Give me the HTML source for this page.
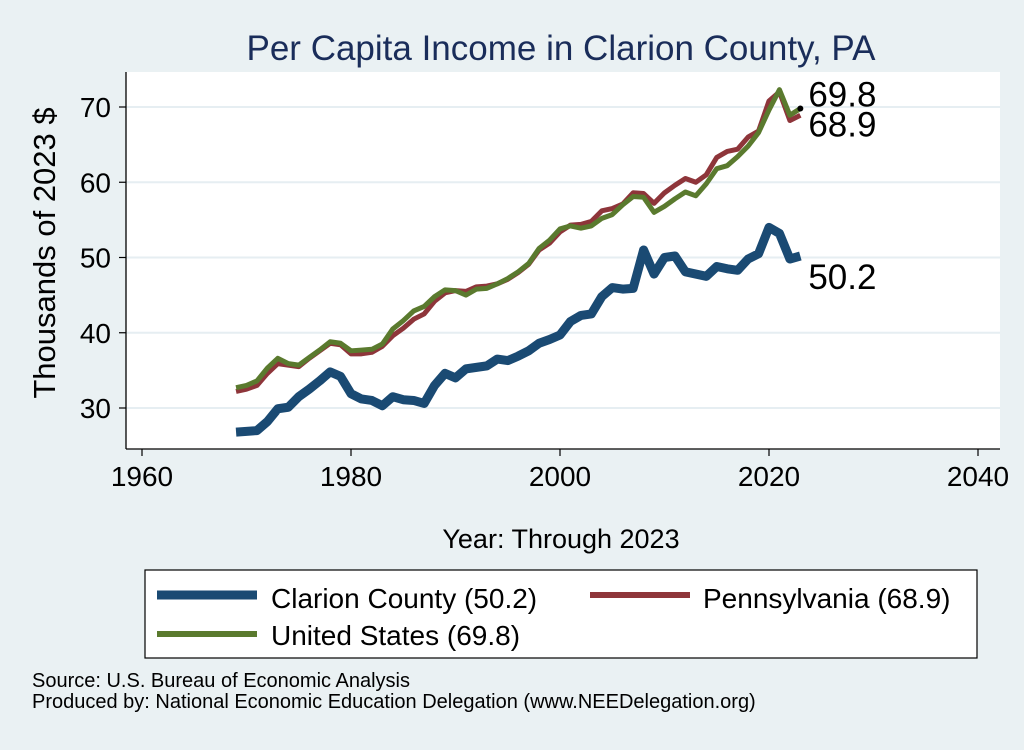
<!DOCTYPE html>
<html><head><meta charset="utf-8"><style>
body{margin:0;background:#eaf1f3;font-family:"Liberation Sans",sans-serif;}
svg text{font-family:"Liberation Sans",sans-serif;}
</style></head><body>
<svg width="1024" height="745" xmlns="http://www.w3.org/2000/svg">
<rect width="1024" height="745" fill="#eaf1f3"/>
<text x="561" y="60" font-size="35" fill="#1a2d5a" text-anchor="middle">Per Capita Income in Clarion County, PA</text>
<rect x="126" y="72" width="874" height="377" fill="#fff"/>
<g id="grid"></g>
<g id="axes"></g>
<g id="series"></g>
<text transform="translate(55,253) rotate(-90)" font-size="31" text-anchor="middle">Thousands of 2023 $</text>
<text x="561" y="548" font-size="27" text-anchor="middle">Year: Through 2023</text>
<rect x="145" y="570" width="832" height="88" fill="#fff" stroke="#000" stroke-width="1.2"/>
<g><line x1="157" y1="595" x2="257" y2="595" stroke="#1a4a73" stroke-width="9"/><text x="271" y="608" font-size="28">Clarion County (50.2)</text></g>
<g><line x1="590" y1="595" x2="690" y2="595" stroke="#8e353a" stroke-width="6"/><text x="703" y="608" font-size="28">Pennsylvania (68.9)</text></g>
<g><line x1="157" y1="634" x2="257" y2="634" stroke="#5a7a2e" stroke-width="6"/><text x="271" y="645" font-size="28">United States (69.8)</text></g>
<text x="32" y="687" font-size="20">Source: U.S. Bureau of Economic Analysis</text>
<text x="32" y="708" font-size="20">Produced by: National Economic Education Delegation (www.NEEDelegation.org)</text>
</svg>
<script>
const years=[];for(let y=1969;y<=2023;y++)years.push(y);
const clarion=[26.8,26.9,27.0,28.2,29.9,30.1,31.5,32.5,33.6,34.8,34.2,31.9,31.2,31.0,30.3,31.5,31.1,31.0,30.6,33.0,34.6,34.0,35.2,35.4,35.6,36.5,36.3,36.9,37.6,38.6,39.1,39.7,41.5,42.3,42.5,44.8,46.0,45.8,45.9,51.0,47.8,50.0,50.2,48.1,47.8,47.5,48.8,48.5,48.3,49.8,50.5,54.0,53.2,49.8,50.2];
const pennsylvania=[32.2,32.5,33.0,34.6,35.9,35.7,35.5,36.6,37.6,38.6,38.4,37.2,37.2,37.4,38.2,39.6,40.6,41.8,42.5,44.2,45.3,45.6,45.5,46.1,46.2,46.5,47.1,48.0,49.1,51.0,51.9,53.4,54.3,54.4,54.8,56.2,56.5,57.1,58.6,58.5,57.2,58.6,59.6,60.5,60.0,61.0,63.3,64.1,64.4,66.0,66.8,70.8,72.0,68.2,68.9];
const unitedStates=[32.7,33.0,33.6,35.3,36.6,35.9,35.7,36.7,37.7,38.8,38.6,37.6,37.7,37.8,38.5,40.5,41.6,42.9,43.5,44.8,45.7,45.6,45.0,45.8,45.9,46.5,47.2,48.1,49.2,51.2,52.3,53.8,54.2,53.9,54.2,55.2,55.7,57.0,58.1,58.0,56.0,56.8,57.8,58.7,58.2,59.8,61.8,62.2,63.4,64.8,66.6,69.6,72.3,68.9,69.8];
const xTicks=[1960,1980,2000,2020,2040];
const yTicks=[30,40,50,60,70];
const X=v=>142+(v-1960)*(978-142)/80;
const Y=v=>408-(v-30)*(408-107)/40;
const NS="http://www.w3.org/2000/svg";
function mk(p,tag,a){const e=document.createElementNS(NS,tag);for(const k in a)e.setAttribute(k,a[k]);p.appendChild(e);return e;}
const grid=document.getElementById('grid'),axes=document.getElementById('axes'),ser=document.getElementById('series');
yTicks.forEach(t=>{
 const g=mk(grid,'line',{x1:126,x2:1000,y1:Y(t),y2:Y(t),stroke:'#e6eef2','stroke-width':2});
 
 
 mk(axes,'line',{x1:119,x2:126,y1:Y(t),y2:Y(t),stroke:'#000','stroke-width':1.2});
 const tx=mk(axes,'text',{x:111,y:Y(t)+10,'font-size':28,'text-anchor':'end'});tx.textContent=t;
 
 
});
xTicks.forEach(t=>{
 mk(axes,'line',{x1:X(t),x2:X(t),y1:449,y2:456,stroke:'#000','stroke-width':1.2});
 const tx=mk(axes,'text',{x:X(t),y:486,'font-size':28,'text-anchor':'middle'});tx.textContent=t;
 
 
});
mk(axes,'line',{x1:126,x2:126,y1:72,y2:449,stroke:'#000','stroke-width':1.3});
mk(axes,'line',{x1:126,x2:1000,y1:449,y2:449,stroke:'#000','stroke-width':1.3});
function line(vals,color,w,name){
 const p=mk(ser,'polyline',{points:vals.map((v,i)=>X(years[i])+','+Y(v)).join(' '),fill:'none',stroke:color,'stroke-width':w,'stroke-linejoin':'round'});
 
 
}
line(clarion,'#1a4a73',9,'line-clarion');
line(pennsylvania,'#8e353a',5,'line-pennsylvania');
line(unitedStates,'#5a7a2e',5,'line-us');
const n=years.length-1,lx=X(years[n]);
mk(ser,'circle',{cx:lx,cy:Y(unitedStates[n]),r:3,fill:'#000'});
[[unitedStates[n],-2,'label-us-last'],[pennsylvania[n],21,'label-pa-last'],[clarion[n],33,'label-clarion-last']].forEach(([v,dy,nm])=>{
 const t=mk(ser,'text',{x:lx+8,y:Y(v)+dy,'font-size':35});t.textContent=v.toFixed(1);
 
 
});
</script>
</body></html>
